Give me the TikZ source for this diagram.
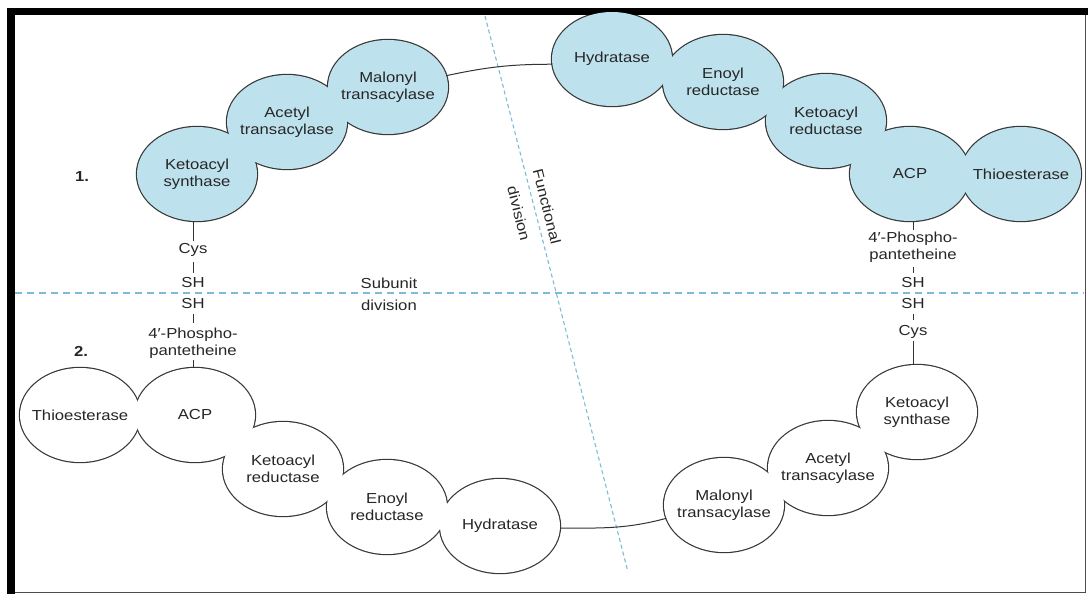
\documentclass[tikz,border=0pt]{standalone}
\usepackage{fontspec}
\setmainfont[FakeStretch=1.15]{Liberation Sans}
\usepackage{tikz}
\usetikzlibrary{shapes.geometric, backgrounds, calc}
\definecolor{subunitcolor}{RGB}{190,226,237}
\definecolor{divisioncolor}{RGB}{125,187,214}
\definecolor{rimcolor}{RGB}{55,55,55}

\begin{document}
\begin{tikzpicture}[
    x=1pt, y=1pt,
    every node/.style={font=\fontsize{14.5}{17}\selectfont, text=black!85},
    enzyme/.style={ellipse, minimum width=120pt, minimum height=94pt, inner xsep=-22pt, inner ysep=0pt, align=center},
    chem/.style={inner sep=2pt, align=center},
    tick/.style={draw=black!80, line width=0.8pt, shorten >=3pt, shorten <=3pt},
    link/.style={draw=black!80, line width=1pt},
    rim/.style={draw=rimcolor, line width=2.4pt},
    division/.style={draw=divisioncolor, line width=1.1pt}
]
    \useasboundingbox (0,0) rectangle (1088,-594);

    % Frame
    \draw[line width=7.5pt] (11,-594) -- (11,-11.5) -- (1088,-11.5);
    \draw[line width=1.5pt, black!70] (15,-592.5) -- (1085.5,-592.5) -- (1085.5,-15);

    % Division lines
    \coordinate (subL) at (15,-293);
    \coordinate (subR) at (1084,-293);
    \coordinate (funT) at (485,-16);
    \coordinate (funB) at (628,-572);
    \draw[division, dash pattern=on 7pt off 5pt] (subL) -- (subR);
    \draw[division, dash pattern=on 4pt off 3pt] (funT) -- (funB);
    \node[align=center] (subunit) at (389,-294) {Subunit\\[5pt]division};
    \node[align=center, rotate=-76] (functional) at (533,-210) {Functional\\[12pt]division};

    % Subunit 1
    \node[enzyme, fill=subunitcolor] (ks1) at (197,-174) {Ketoacyl\\synthase};
    \node[enzyme, fill=subunitcolor] (at1) at (287,-122) {Acetyl\\transacylase};
    \node[enzyme, fill=subunitcolor] (mt1) at (388,-87) {Malonyl\\transacylase};
    \node[enzyme, fill=subunitcolor] (hy1) at (612,-59) {Hydratase};
    \node[enzyme, fill=subunitcolor] (er1) at (723,-82) {Enoyl\\reductase};
    \node[enzyme, fill=subunitcolor] (kr1) at (826,-121) {Ketoacyl\\reductase};
    \node[enzyme, fill=subunitcolor] (acp1) at (910,-174) {ACP};
    \node[enzyme, fill=subunitcolor] (te1) at (1021,-174) {Thioesterase};

    % Subunit 2
    \node[enzyme, fill=white] (te2) at (80,-415) {Thioesterase};
    \node[enzyme, fill=white] (acp2) at (195,-415) {ACP};
    \node[enzyme, fill=white] (kr2) at (283,-469) {Ketoacyl\\reductase};
    \node[enzyme, fill=white] (er2) at (387,-507) {Enoyl\\reductase};
    \node[enzyme, fill=white] (hy2) at (500,-526) {Hydratase};
    \node[enzyme, fill=white] (mt2) at (724,-505) {Malonyl\\transacylase};
    \node[enzyme, fill=white] (at2) at (828,-468) {Acetyl\\transacylase};
    \node[enzyme, fill=white] (ks2) at (917,-412) {Ketoacyl\\synthase};

    % Outline of each chain (inner half hidden by the fills)
    \begin{scope}[on background layer]
        \foreach \e in {ks1, at1, mt1, hy1, er1, kr1, acp1, te1, te2, acp2, kr2, er2, hy2, mt2, at2, ks2}
            \draw[rim] (\e.center) ellipse [x radius=60pt, y radius=47pt];
    \end{scope}

    % Domain linkers
    \draw[link] (mt1.11) to[out=12, in=180] (hy1.185);
    \draw[link] (hy2.358) to[out=0, in=195] (mt2.193);

    % Subunit numbers
    \node (one) at (82,-177) {\textbf{1.}};
    \node (two) at (81,-351) {\textbf{2.}};

    % Left cross-link
    \node[chem] (cys1) at (193,-250) {Cys};
    \node[chem] (sh1) at (193,-283) {SH};
    \node[chem] (sh2) at (193,-304) {SH};
    \node[chem] (pp2) at (193,-343) {4′-Phospho-\\pantetheine};
    \draw[link] (ks1.south -| cys1) -- (cys1);
    \draw[tick] (cys1) -- (sh1);
    \draw[tick] (sh2) -- (pp2);
    \draw[link] (pp2) -- (pp2 |- acp2.north);

    % Right cross-link
    \node[chem] (pp1) at (913,-247) {4′-Phospho-\\pantetheine};
    \node[chem] (sh3) at (913,-283) {SH};
    \node[chem] (sh4) at (913,-304) {SH};
    \node[chem] (cys2) at (913,-332) {Cys};
    \draw[link] (acp1.south -| pp1) -- (pp1);
    \draw[tick] (pp1) -- (sh3);
    \draw[tick] (sh4) -- (cys2);
    \draw[link] (cys2) -- (cys2 |- ks2.north);
\end{tikzpicture}
\end{document}
